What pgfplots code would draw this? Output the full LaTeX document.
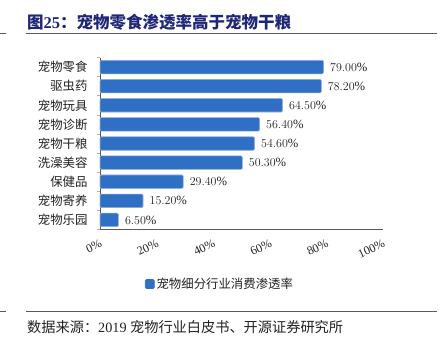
\documentclass[border=0pt]{standalone}
\usepackage{fontspec}
\setmainfont{Liberation Serif}
\newfontfamily\cjk{Noto Sans CJK SC}
\usepackage{pgfplots}
\pgfplotsset{compat=1.18}
\definecolor{barblue}{RGB}{48,112,196}
\definecolor{titleblue}{RGB}{30,38,120}
\definecolor{rulegray}{RGB}{90,90,90}
\definecolor{txt}{RGB}{34,34,34}
\begin{document}
\begin{tikzpicture}
\path[use as bounding box] (0,0) rectangle (442pt,347pt);
\node[anchor=west, text=titleblue, font=\fontsize{16.5}{18}\selectfont\bfseries, inner sep=0pt] at (27pt,325pt) {{\cjk\bfseries 图}25{\cjk\bfseries ：宠物零食渗透率高于宠物干粮}};
\draw[rulegray, line width=0.9pt] (26pt,313.5pt) -- (437pt,313.5pt);
\draw[rulegray, line width=0.9pt] (0pt,313.5pt) -- (6pt,313.5pt);
\draw[rulegray, line width=0.9pt] (26pt,36pt) -- (437pt,36pt);
\draw[rulegray, line width=0.9pt] (0pt,36pt) -- (6pt,36pt);
\node[anchor=west, text=txt, font=\fontsize{14.2}{16}\selectfont, inner sep=0pt] at (27pt,20.3pt) {{\cjk 数据来源：}2019 {\cjk 宠物行业白皮书、开源证券研究所}};
\begin{axis}[
  at={(100pt,117.5pt)}, anchor=south west, scale only axis,
  width=283pt, height=172pt,
  xbar, bar width=13.5pt,
  xmin=0, xmax=100, ymin=-0.5, ymax=8.5, y dir=reverse,
  ytick={0,...,8},
  yticklabels={宠物零食,驱虫药,宠物玩具,宠物诊断,宠物干粮,洗澡美容,保健品,宠物寄养,宠物乐园},
  yticklabel style={font=\fontsize{12.4}{14}\cjk, text=txt, xshift=-9pt},
  xtick={0,20,...,100},
  xticklabels={0\%,20\%,40\%,60\%,80\%,100\%},
  xticklabel style={font=\fontsize{12}{14}\selectfont, text=txt, rotate=25, anchor=north east, inner sep=1pt},
  xticklabel shift=8pt,
  minor ytick={-0.5,0.5,...,8.5},
  major tick length=0pt, minor tick length=3pt, tick align=outside,
  every minor tick/.style={gray!60, line width=0.6pt},
  axis x line*=bottom, axis y line*=left,
  axis line style={rulegray, line width=0.8pt},
  point meta=x,
  nodes near coords={\pgfmathprintnumber[fixed,fixed zerofill,precision=2]{\pgfplotspointmeta}\%},
  every node near coord/.append style={font=\fontsize{12.6}{14}\selectfont, text=txt, anchor=west, xshift=3pt},
  legend style={at={(0.424,-0.317)}, anchor=center, draw=none, fill=none, font=\fontsize{12.4}{14}\cjk, text=txt},
  legend image code/.code={\fill[barblue] (0pt,-4.5pt) rectangle (9pt,4.5pt);},
]
\addplot[fill=barblue, draw=barblue!55!white, line width=0.6pt, rounded corners=1.2pt] coordinates {
 (79.0,0) (78.2,1) (64.5,2) (56.4,3) (54.6,4) (50.3,5) (29.4,6) (15.2,7) (6.5,8)
};
\addlegendentry{宠物细分行业消费渗透率}
\end{axis}
\end{tikzpicture}
\end{document}
